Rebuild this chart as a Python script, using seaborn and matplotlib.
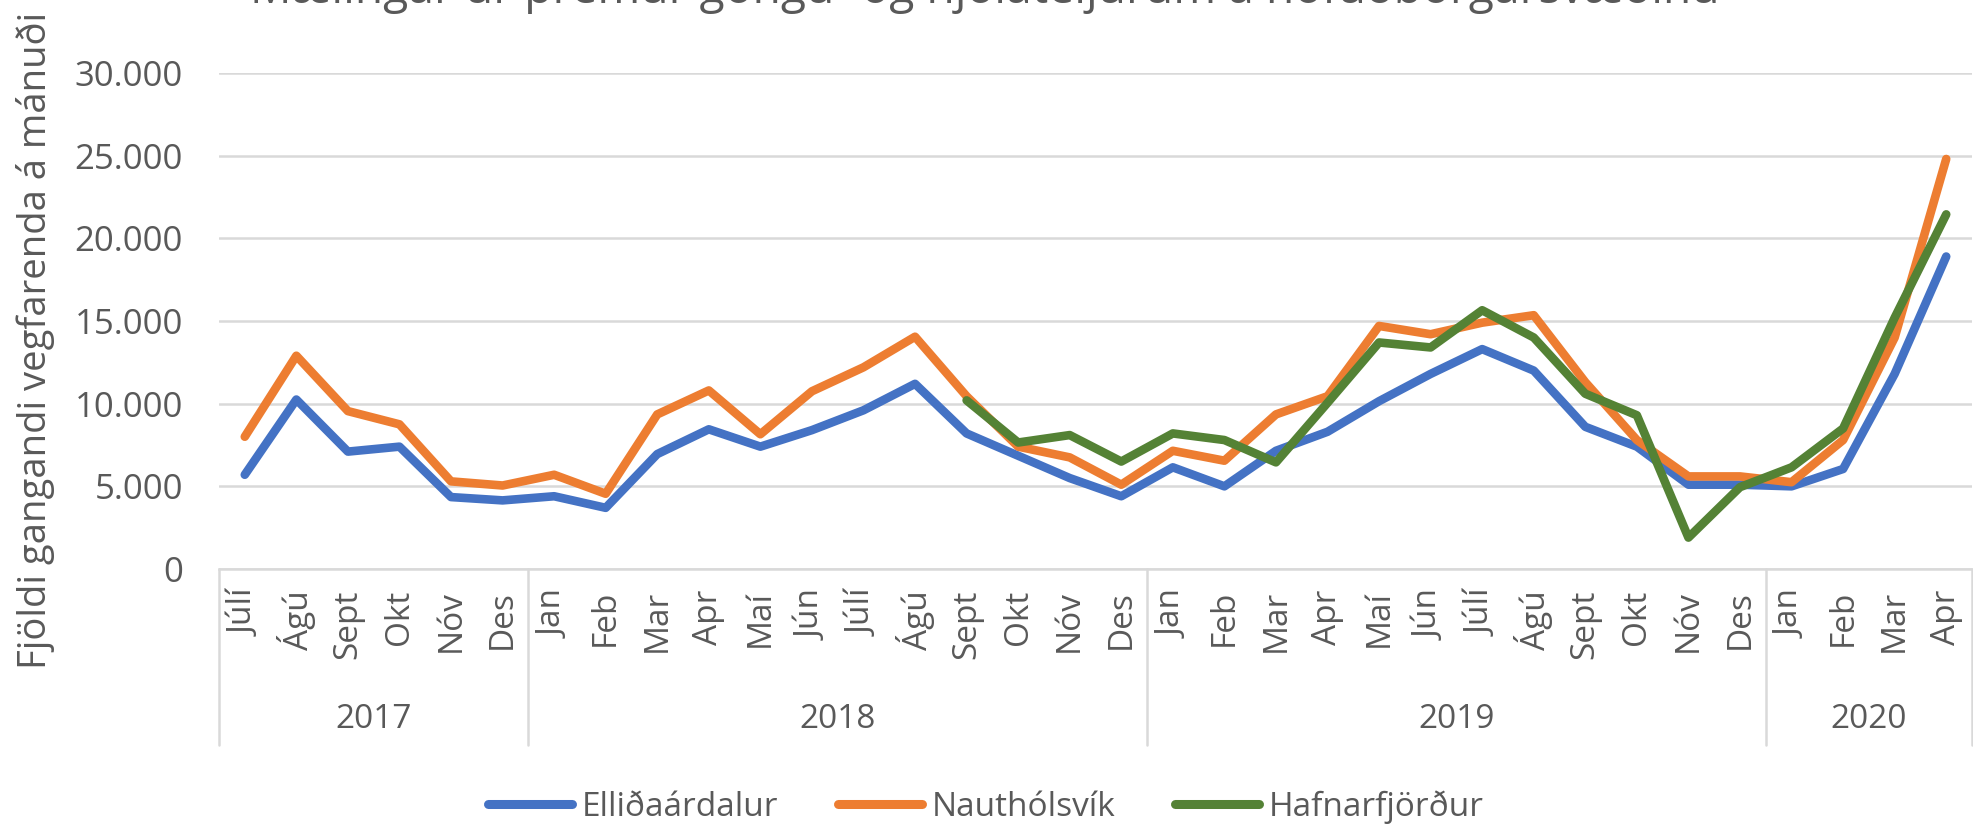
import numpy as np
import pandas as pd
import matplotlib
matplotlib.use("Agg")
import matplotlib.pyplot as plt
import matplotlib.transforms as mtransforms
from matplotlib.lines import Line2D
from matplotlib.ticker import FuncFormatter
import seaborn as sns

# data (monthly counts)
months = ["Júlí", "Ágú", "Sept", "Okt", "Nóv", "Des",
          "Jan", "Feb", "Mar", "Apr", "Maí", "Jún", "Júlí", "Ágú", "Sept", "Okt", "Nóv", "Des",
          "Jan", "Feb", "Mar", "Apr", "Maí", "Jún", "Júlí", "Ágú", "Sept", "Okt", "Nóv", "Des",
          "Jan", "Feb", "Mar", "Apr"]
years = ["2017", "2018", "2019", "2020"]
year_counts = [6, 12, 12, 4]

ellidaardalur = [5700, 10250, 7100, 7400, 4350, 4150, 4400, 3700, 6950, 8450, 7400, 8400,
                 9600, 11200, 8200, 6850, 5500, 4400, 6150, 5000, 7150, 8300, 10150, 11800,
                 13300, 12000, 8600, 7400, 5100, 5100, 5000, 6050, 11800, 18900]
nautholsvik = [8000, 12900, 9550, 8750, 5300, 5050, 5700, 4550, 9350, 10800, 8150, 10750,
               12200, 14050, 10450, 7400, 6750, 5100, 7150, 6550, 9350, 10450, 14700, 14200,
               14900, 15350, 11300, 7800, 5600, 5600, 5250, 7800, 14000, 24800]
hafnarfjordur = [np.nan] * 14 + [10200, 7650, 8100, 6500, 8200, 7800, 6450, 10050, 13700,
                                 13400, 15650, 14000, 10600, 9300, 1900, 4950, 6150, 8500,
                                 15200, 21450]

series_names = ["Elliðaárdalur", "Nauthólsvík", "Hafnarfjörður"]
colors = ["#4472C4", "#ED7D31", "#548235"]

title = "Mælingar úr þremur göngu- og hjólateljurum á höfuðborgarsvæðinu"
ylabel = "Fjöldi gangandi vegfarenda á mánuði"

idx = np.arange(len(months))
df = pd.concat([
    pd.DataFrame({"idx": idx, "value": vals, "series": name})
    for name, vals in zip(series_names, [ellidaardalur, nautholsvik, hafnarfjordur])
], ignore_index=True)

sns.set_theme(style="white")
plt.rcParams["font.family"] = ["Open Sans", "DejaVu Sans"]
text_color = "#595959"
grid_color = "#D9D9D9"

fig = plt.figure(figsize=(19.74, 8.27), dpi=100)
ax = fig.add_axes([219 / 1974, 1 - 569 / 827, (1972 - 219) / 1974, (569 - 73) / 827])

# draw the three series
sns.lineplot(data=df, x="idx", y="value", hue="series", hue_order=series_names,
             palette=colors, linewidth=6.2, legend=False, ax=ax,
             solid_capstyle="round")

ax.set_xlim(-0.5, len(months) - 0.5)
ax.set_ylim(0, 30000)
ax.set_yticks(np.arange(0, 30001, 5000))
ax.yaxis.set_major_formatter(FuncFormatter(lambda v, p: f"{int(v):,}".replace(",", ".")))
ax.grid(axis="y", color=grid_color, linewidth=1.8)
ax.set_axisbelow(True)
for s in ["top", "right", "left"]:
    ax.spines[s].set_visible(False)
ax.spines["bottom"].set_color(grid_color)
ax.spines["bottom"].set_linewidth(1.8)

ax.set_xticks(idx)
ax.set_xticklabels(months, rotation=90, fontsize=24, color=text_color)
ax.tick_params(axis="x", length=0, pad=15)
ax.tick_params(axis="y", length=0, pad=26, labelsize=25, labelcolor=text_color)
ax.set_xlabel("")
ax.set_ylabel("")

# multi-level category axis: year boxes
trans = mtransforms.blended_transform_factory(ax.transData, ax.transAxes)
bounds = np.concatenate([[0], np.cumsum(year_counts)]) - 0.5
for b in bounds:
    ax.plot([b, b], [0, -0.354], transform=trans, color=grid_color, lw=1.8, clip_on=False)
for yr, lo, hi in zip(years, bounds[:-1], bounds[1:]):
    ax.text((lo + hi) / 2, -0.304, yr, transform=trans, ha="center", va="center",
            fontsize=24, color=text_color)

fig.text(36 / 1974, 1 - 669 / 827, ylabel, rotation=90, ha="center", va="bottom",
         fontsize=27.5, color=text_color)
fig.text(0.499, 1 - 3 / 827, title, ha="center", va="baseline",
         fontsize=33.3, color=text_color)

handles = [Line2D([], [], color=c, lw=6.5, solid_capstyle="round") for c in colors]
fig.legend(handles, series_names, loc="center", bbox_to_anchor=(986 / 1974, 1 - 807 / 827),
           ncol=3, frameon=False, fontsize=24, handlelength=2.5, handletextpad=0.3,
           columnspacing=1.8, labelcolor=text_color, borderaxespad=0, borderpad=0)

fig.savefig("out.png", dpi=100)
